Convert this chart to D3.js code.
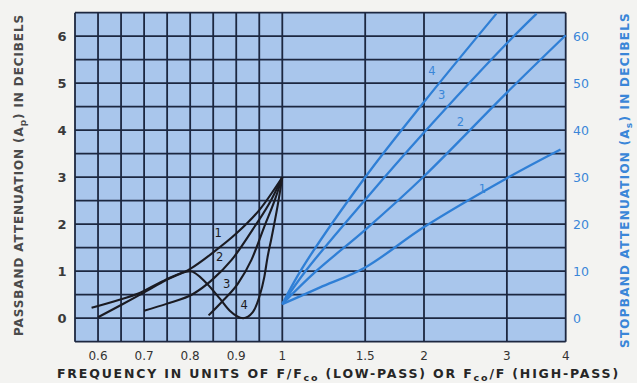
<!DOCTYPE html>
<html>
<head>
<meta charset="utf-8">
<script src="https://cdn.jsdelivr.net/npm/d3@7"></script>
<style>
  body { margin: 0; background: #f3f3f1; }
  svg { display: block; }
  text { font-family: "DejaVu Sans", "Open Sans", sans-serif; }
</style>
</head>
<body>
<div id="chart"></div>
<script>
// passband curves, F/Fco vs dB (left axis)
var pass1 = [[0.6,0.02],[0.65,0.28],[0.7,0.55],[0.75,0.82],[0.8,1.05],[0.85,1.4],[0.9,1.8],[0.95,2.3],[1.0,3.0]];
var pass2 = [[0.7,0.16],[0.75,0.31],[0.807,0.52],[0.847,0.81],[0.89,1.24],[0.94,1.95],[0.975,2.5],[1.0,3.0]];
var pass3 = [[0.84,0.06],[0.868,0.34],[0.904,0.74],[0.933,1.24],[0.961,1.95],[0.985,2.55],[1.0,3.0]];
var pass4 = [[0.586,0.22],[0.643,0.38],[0.686,0.52],[0.743,0.8],[0.8,1.0],[0.836,0.74],[0.865,0.41],[0.886,0.16],[0.915,0.0],[0.936,0.13],[0.95,0.45],[0.961,0.88],[0.968,1.3],[0.976,1.68],[0.99,2.4],[1.0,3.0]];

// stopband curves, frequency vs dB (right axis)
var stop1 = [[1,3],[1.2,6.5],[1.5,10.8],[2,19.4],[3,29.8],[3.9,35.9]];
var stop2 = [[1,3],[1.18,10],[1.5,18.8],[2,30.2],[3,48],[4,60.2]];
var stop3 = [[1,3],[1.12,10],[1.5,25.2],[2,39.5],[3,58.5],[3.47,64.8]];
var stop4 = [[1,3],[1.1,10.5],[1.5,30],[2,46],[2.85,64.8]];

var passLabels = [["1",0.861,1.82],["2",0.864,1.31],["3",0.879,0.72],["4",0.917,0.29]];
var stopLabels = [["1",2.66,27.6],["2",2.39,41.8],["3",2.18,47.4],["4",2.08,52.7]];

var lowTicks = [0.6, 0.7, 0.8, 0.9, 1];
var highTicks = [1.5, 2, 3, 4];
var lowTickText = ["0.6", "0.7", "0.8", "0.9", "1"];
var highTickText = ["1.5", "2", "3", "4"];
var leftTicks = [0, 1, 2, 3, 4, 5, 6];
var rightTicks = [0, 10, 20, 30, 40, 50, 60];

var width = 637, height = 383;
var plotLeft = 75, plotMid = 282.3, plotRight = 565.7, plotTop = 12.7, plotBottom = 341.7;

var gridColor = "#1c2740";
var blue = "#2f7fd6";
var blueText = "#3a86d8";
var ink = "#1b1b22";

var xLow = d3.scaleLinear().domain([0.55, 1]).range([plotLeft, plotMid]);
var xHigh = d3.scaleLog().domain([1, 4]).range([plotMid, plotRight]);
var yLeft = d3.scaleLinear().domain([-0.5, 6.5]).range([plotBottom, plotTop]);
var yRight = d3.scaleLinear().domain([-5, 65]).range([plotBottom, plotTop]);

var svg = d3.select("#chart").append("svg")
    .attr("width", width)
    .attr("height", height);

svg.append("rect")
    .attr("x", plotLeft).attr("y", plotTop)
    .attr("width", plotRight - plotLeft).attr("height", plotBottom - plotTop)
    .attr("fill", "#a9c6ec");

// grid
var hLines = d3.range(-0.5, 6.51, 0.5);
svg.selectAll(".hgrid").data(hLines).enter().append("line")
    .attr("x1", plotLeft).attr("x2", plotRight)
    .attr("y1", function (d) { return yLeft(d); })
    .attr("y2", function (d) { return yLeft(d); })
    .attr("stroke", gridColor).attr("stroke-width", 1.8);

var vLow = d3.range(0.55, 1.001, 0.05);
svg.selectAll(".vlow").data(vLow).enter().append("line")
    .attr("x1", function (d) { return xLow(d); })
    .attr("x2", function (d) { return xLow(d); })
    .attr("y1", plotTop).attr("y2", plotBottom)
    .attr("stroke", gridColor).attr("stroke-width", 1.8);

svg.selectAll(".vhigh").data(highTicks).enter().append("line")
    .attr("x1", function (d) { return xHigh(d); })
    .attr("x2", function (d) { return xHigh(d); })
    .attr("y1", plotTop).attr("y2", plotBottom)
    .attr("stroke", gridColor).attr("stroke-width", 1.8);

// curves
var passLine = d3.line()
    .x(function (d) { return xLow(d[0]); })
    .y(function (d) { return yLeft(d[1]); })
    .curve(d3.curveMonotoneX);

var stopLine = d3.line()
    .x(function (d) { return xHigh(d[0]); })
    .y(function (d) { return yRight(d[1]); })
    .curve(d3.curveCatmullRom.alpha(0.5));

svg.selectAll(".stop").data([stop1, stop2, stop3, stop4]).enter().append("path")
    .attr("d", stopLine)
    .attr("fill", "none")
    .attr("stroke", blue)
    .attr("stroke-width", 2.3);

svg.selectAll(".pass").data([pass1, pass2, pass3, pass4]).enter().append("path")
    .attr("d", passLine)
    .attr("fill", "none")
    .attr("stroke", ink)
    .attr("stroke-width", 2.1);

// curve numbers
svg.selectAll(".plab").data(passLabels).enter().append("text")
    .attr("x", function (d) { return xLow(d[1]); })
    .attr("y", function (d) { return yLeft(d[2]); })
    .attr("dy", "0.35em")
    .attr("text-anchor", "middle")
    .attr("font-size", 11.5)
    .attr("fill", ink)
    .text(function (d) { return d[0]; });

svg.selectAll(".slab").data(stopLabels).enter().append("text")
    .attr("x", function (d) { return xHigh(d[1]); })
    .attr("y", function (d) { return yRight(d[2]); })
    .attr("dy", "0.35em")
    .attr("text-anchor", "middle")
    .attr("font-size", 11.5)
    .attr("fill", blueText)
    .text(function (d) { return d[0]; });

// tick labels
svg.selectAll(".ltick").data(leftTicks).enter().append("text")
    .attr("x", 62)
    .attr("y", function (d) { return yLeft(d); })
    .attr("dy", "0.36em")
    .attr("text-anchor", "middle")
    .attr("font-size", 13)
    .attr("font-weight", "bold")
    .attr("fill", "#3a3a3a")
    .text(function (d) { return d; });

svg.selectAll(".rtick").data(rightTicks).enter().append("text")
    .attr("x", 573)
    .attr("y", function (d) { return yRight(d); })
    .attr("dy", "0.36em")
    .attr("text-anchor", "start")
    .attr("font-size", 12.5)
    .attr("fill", blueText)
    .text(function (d) { return d; });

svg.selectAll(".btlow").data(lowTicks).enter().append("text")
    .attr("x", function (d) { return xLow(d); })
    .attr("y", 360)
    .attr("text-anchor", "middle")
    .attr("font-size", 12)
    .attr("fill", "#333")
    .text(function (d, i) { return lowTickText[i]; });

svg.selectAll(".bthigh").data(highTicks).enter().append("text")
    .attr("x", function (d) { return xHigh(d); })
    .attr("y", 360)
    .attr("text-anchor", "middle")
    .attr("font-size", 12)
    .attr("fill", "#333")
    .text(function (d, i) { return highTickText[i]; });

// stretch a title so it covers the same span as in the picture
function spread(sel, target) {
    var len = sel.node().getComputedTextLength();
    var n = sel.text().length;
    sel.attr("letter-spacing", Math.max(0, (target - len) / n));
}

// axis titles
var xt = svg.append("text")
    .attr("x", 57).attr("y", 378)
    .attr("font-size", 12.5)
    .attr("font-weight", "bold")
    .attr("fill", "#262626");
xt.append("tspan").text("FREQUENCY IN UNITS OF F/F");
xt.append("tspan").attr("dy", 3).attr("font-size", 9.5).text("co");
xt.append("tspan").attr("dy", -3).text(" (LOW-PASS) OR F");
xt.append("tspan").attr("dy", 3).attr("font-size", 9.5).text("co");
xt.append("tspan").attr("dy", -3).text("/F (HIGH-PASS)");
spread(xt, 563);

var lt = svg.append("text")
    .attr("transform", "translate(23,175) rotate(-90)")
    .attr("text-anchor", "middle")
    .attr("font-size", 12)
    .attr("font-weight", "bold")
    .attr("fill", "#4a4a4a");
lt.append("tspan").text("PASSBAND ATTENUATION (A");
lt.append("tspan").attr("dy", 3).attr("font-size", 9).text("p");
lt.append("tspan").attr("dy", -3).text(") IN DECIBELS");
spread(lt, 322);

var rt = svg.append("text")
    .attr("transform", "translate(629,180) rotate(-90)")
    .attr("text-anchor", "middle")
    .attr("font-size", 12)
    .attr("font-weight", "bold")
    .attr("fill", blueText);
rt.append("tspan").text("STOPBAND ATTENUATION (A");
rt.append("tspan").attr("dy", 3).attr("font-size", 9).text("s");
rt.append("tspan").attr("dy", -3).text(") IN DECIBELS");
spread(rt, 336);
</script>
</body>
</html>
